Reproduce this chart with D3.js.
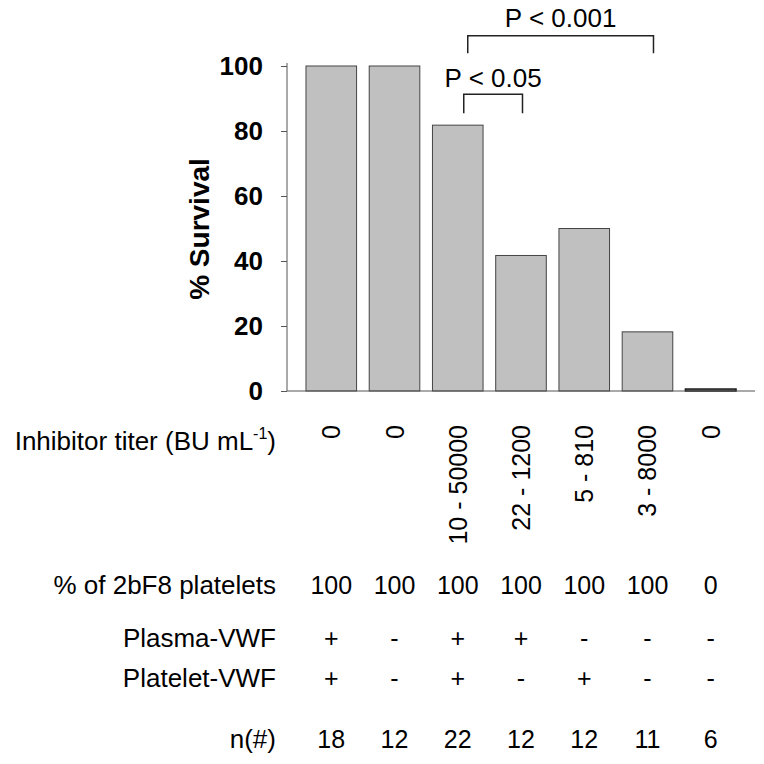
<!DOCTYPE html>
<html>
<head>
<meta charset="utf-8">
<script src="https://cdn.jsdelivr.net/npm/d3@7"></script>
<style>
  body { margin: 0; background: #fff; }
  text { font-family: "Liberation Sans", Arial, Helvetica, sans-serif; fill: #000; }
</style>
</head>
<body>
<svg id="chart" width="764" height="764"></svg>
<script>
// groups along x (one bar each)
const groups = ["g1", "g2", "g3", "g4", "g5", "g6", "g7"];
const survival = [100, 100, 81.8, 41.7, 50, 18.2, 0.6];
const yTicks = [0, 20, 40, 60, 80, 100];

// table under the chart
const titer = ["0", "0", "10 - 50000", "22 - 1200", "5 - 810", "3 - 8000", "0"];
const pct2bF8 = ["100", "100", "100", "100", "100", "100", "0"];
const plasmaVWF = ["+", "-", "+", "+", "-", "-", "-"];
const plateletVWF = ["+", "-", "+", "-", "+", "-", "-"];
const nCount = ["18", "12", "22", "12", "12", "11", "6"];

// significance brackets
const brackets = [
  { from: "g3", to: "g6", label: "P < 0.001" },
  { from: "g3", to: "g4", label: "P < 0.05" }
];

const svg = d3.select("svg#chart");

const x = d3.scaleBand()
  .domain(groups)
  .range([287, 755])
  .paddingInner(0.2)
  .paddingOuter(0.3);

const y = d3.scaleLinear()
  .domain([0, 100])
  .range([391, 66]);

// bars
svg.selectAll("rect.bar")
  .data(groups)
  .enter()
  .append("rect")
  .attr("class", "bar")
  .attr("x", d => x(d))
  .attr("width", x.bandwidth())
  .attr("y", (d, i) => y(survival[i]))
  .attr("height", (d, i) => y(0) - y(survival[i]))
  .attr("fill", "#c0c0c0")
  .attr("stroke", (d, i) => survival[i] < 2 ? "#111" : "#444")
  .attr("stroke-width", (d, i) => survival[i] < 2 ? 1.5 : 1);

// y axis
const yAxis = svg.append("g")
  .attr("transform", "translate(287,0)")
  .call(d3.axisLeft(y).tickValues(yTicks).tickSize(6).tickPadding(18));
yAxis.select(".domain").attr("stroke", "#555").attr("d", "M0,63V391");
yAxis.selectAll(".tick line").attr("stroke", "#555");
yAxis.selectAll(".tick text")
  .attr("font-size", 26)
  .attr("font-weight", "bold")
  .attr("font-family", "Liberation Sans, Arial, sans-serif");

// x baseline
svg.append("line")
  .attr("x1", 287).attr("x2", 755)
  .attr("y1", y(0)).attr("y2", y(0))
  .attr("stroke", "#555");

svg.append("text")
  .attr("transform", "translate(209,229) rotate(-90)")
  .attr("text-anchor", "middle")
  .attr("font-size", 28)
  .attr("font-weight", "bold")
  .text("% Survival");

// brackets
const brLayout = [
  { yBar: 35.7, yLeg: 53.3, yText: 27, dx0: 10, dx1: 6 },
  { yBar: 94.3, yLeg: 113.3, yText: 87, dx0: 6, dx1: 1.5 }
];
brackets.forEach((b, i) => {
  const L = brLayout[i];
  const x0 = x(b.from) + x.bandwidth() / 2 + L.dx0;
  const x1 = x(b.to) + x.bandwidth() / 2 + L.dx1;
  svg.append("path")
    .attr("d", `M${x0},${L.yLeg}V${L.yBar}H${x1}V${L.yLeg}`)
    .attr("fill", "none")
    .attr("stroke", "#222")
    .attr("stroke-width", 1.5);
  svg.append("text")
    .attr("x", (x0 + x1) / 2)
    .attr("y", L.yText)
    .attr("text-anchor", "middle")
    .attr("font-size", 26)
    .text(b.label);
});

// table
const labelX = 276;
const cx = d => x(d) + x.bandwidth() / 2;

const titerLabel = svg.append("text")
  .attr("x", labelX)
  .attr("y", 450)
  .attr("text-anchor", "end")
  .attr("font-size", 26);
titerLabel.append("tspan").text("Inhibitor titer (BU mL");
titerLabel.append("tspan").attr("font-size", 16).attr("dy", -11).text("-1");
titerLabel.append("tspan").attr("dy", 11).text(")");

svg.selectAll("text.titer")
  .data(groups)
  .enter()
  .append("text")
  .attr("class", "titer")
  .attr("transform", d => `translate(${cx(d) + 9},425) rotate(-90)`)
  .attr("text-anchor", "end")
  .attr("font-size", 25)
  .text((d, i) => titer[i]);

const rows = [
  { label: "% of 2bF8 platelets", values: pct2bF8, y: 594 },
  { label: "Plasma-VWF", values: plasmaVWF, y: 647 },
  { label: "Platelet-VWF", values: plateletVWF, y: 687 },
  { label: "n(#)", values: nCount, y: 748 }
];

rows.forEach(r => {
  svg.append("text")
    .attr("x", labelX)
    .attr("y", r.y)
    .attr("text-anchor", "end")
    .attr("font-size", 26)
    .text(r.label);
  svg.selectAll(null)
    .data(groups)
    .enter()
    .append("text")
    .attr("x", d => cx(d))
    .attr("y", r.y)
    .attr("text-anchor", "middle")
    .attr("font-size", 25)
    .text((d, i) => r.values[i]);
});
</script>
</body>
</html>
